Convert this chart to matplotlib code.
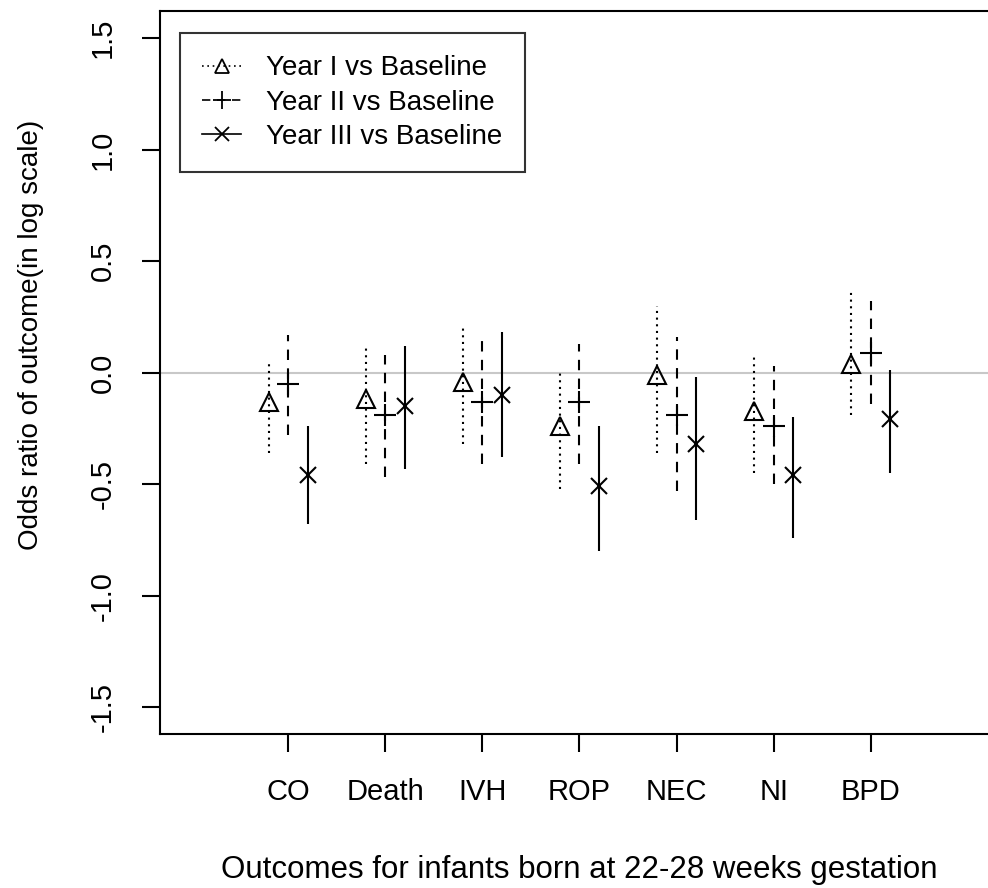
import matplotlib
matplotlib.use("Agg")
import matplotlib.pyplot as plt
from matplotlib.lines import Line2D
import numpy as np

plt.rcParams["font.family"] = ["Liberation Sans", "DejaVu Sans"]

# Log odds ratios with 95% intervals
categories = ["CO", "Death", "IVH", "ROP", "NEC", "NI", "BPD"]
year1_est = [-0.13, -0.12, -0.04, -0.24, -0.01, -0.17, 0.04]
year1_lo = [-0.36, -0.41, -0.32, -0.52, -0.36, -0.45, -0.19]
year1_hi = [0.05, 0.11, 0.20, 0.01, 0.30, 0.07, 0.36]
year2_est = [-0.05, -0.19, -0.13, -0.13, -0.19, -0.24, 0.09]
year2_lo = [-0.28, -0.47, -0.41, -0.41, -0.53, -0.50, -0.14]
year2_hi = [0.17, 0.08, 0.14, 0.13, 0.16, 0.03, 0.32]
year3_est = [-0.46, -0.15, -0.10, -0.51, -0.32, -0.46, -0.21]
year3_lo = [-0.68, -0.43, -0.38, -0.80, -0.66, -0.74, -0.45]
year3_hi = [-0.24, 0.12, 0.18, -0.24, -0.02, -0.20, 0.01]
series_names = ["Year I vs Baseline", "Year II vs Baseline", "Year III vs Baseline"]

fig = plt.figure(figsize=(9.88, 8.88), dpi=100)
ax = fig.add_axes([0.162, 0.1734, 0.849, 0.814])

x = np.arange(1, len(categories) + 1)
ax.axhline(0, color="#c8c8c8", lw=1.5, zorder=0)

styles = [
    ((0, (1, 2.2)), "^", 12.5, "none"),
    ((0, (5, 4)), "+", 16, "black"),
    ("solid", "x", 12, "black"),
]
series = [
    (year1_est, year1_lo, year1_hi, -0.2),
    (year2_est, year2_lo, year2_hi, 0.0),
    (year3_est, year3_lo, year3_hi, 0.2),
]
handles = []
for (est, lo, hi, off), (ls, mk, ms, fc), name in zip(series, styles, series_names):
    xs = x + off
    ax.vlines(xs, lo, hi, colors="black", linestyles=[ls], lw=1.5)
    ax.plot(xs, est, linestyle="none", marker=mk, ms=ms, mfc=fc, mec="black", mew=1.5)
    handles.append(Line2D([], [], color="black", linestyle=ls, lw=1.2, marker=mk,
                          ms=ms * 0.85, mfc=fc, mec="black", mew=1.3))

ax.set_xlim(-0.32, 8.32)
ax.set_ylim(-1.62, 1.62)
ax.set_xticks(x)
ax.set_xticklabels(categories, fontsize=21)
ax.set_yticks([-1.5, -1.0, -0.5, 0.0, 0.5, 1.0, 1.5])
ax.set_yticklabels(["-1.5", "-1.0", "-0.5", "0.0", "0.5", "1.0", "1.5"],
                   fontsize=21, rotation=90, va="center")
ax.tick_params(axis="both", direction="out", length=13, width=1.5)
ax.tick_params(axis="y", pad=18)
ax.tick_params(axis="x", pad=19)
for s in ax.spines.values():
    s.set_linewidth(1.5)

ax.set_xlabel("Outcomes for infants born at 22-28 weeks gestation", fontsize=22.5, labelpad=35)
ax.set_ylabel("Odds ratio of outcome(in log scale)", fontsize=20)
ax.yaxis.set_label_coords(-0.138, 0.552)

leg = ax.legend(handles=handles, labels=series_names, loc="upper left",
                bbox_to_anchor=(0.024, 0.9696), fontsize=20, frameon=True, fancybox=False,
                edgecolor="black", handlelength=1.4, handletextpad=0.9,
                borderpad=0.8, labelspacing=0.3, borderaxespad=0)
leg.get_frame().set_linewidth(1.5)

fig.savefig("out.png", dpi=100)
